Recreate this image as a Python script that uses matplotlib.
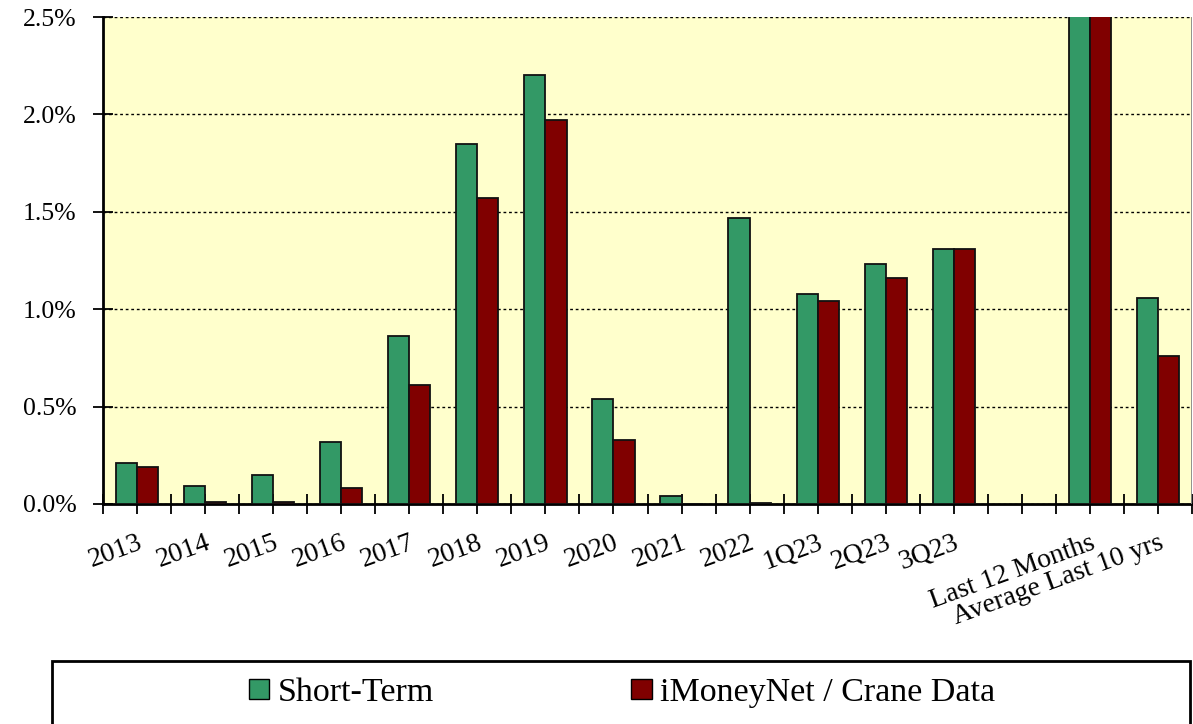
import matplotlib
matplotlib.use("Agg")
import matplotlib.pyplot as plt
import numpy as np
from matplotlib.patches import Rectangle, Patch
from matplotlib.ticker import FuncFormatter, MultipleLocator

categories = ["2013", "2014", "2015", "2016", "2017", "2018", "2019", "2020",
              "2021", "2022", "1Q23", "2Q23", "3Q23", "", "Last 12 Months",
              "Average Last 10 yrs"]
short_term = [0.21, 0.09, 0.15, 0.32, 0.86, 1.85, 2.20, 0.54,
              0.04, 1.47, 1.08, 1.23, 1.31, np.nan, 4.90, 1.06]
imoneynet = [0.19, 0.01, 0.01, 0.08, 0.61, 1.57, 1.97, 0.33,
             0.00, 0.005, 1.04, 1.16, 1.31, np.nan, 4.80, 0.76]
series_names = ["Short-Term", "iMoneyNet / Crane Data"]
colors = ["#339966", "#800000"]

plt.rcParams['font.family'] = ['Liberation Serif', 'DejaVu Serif']

W, H = 1193, 724
fig = plt.figure(figsize=(W / 100, H / 100), dpi=100)
ax = fig.add_axes([103 / W, 1 - 504 / H, (1192 - 103) / W, (504 - 17) / H])
ax.set_facecolor("#FFFFCC")

x = np.arange(len(categories))
bw = 0.31
ax.bar(x - bw / 2, short_term, bw, color=colors[0], edgecolor="#111111", linewidth=1.3, zorder=3)
ax.bar(x + bw / 2, imoneynet, bw, color=colors[1], edgecolor="#111111", linewidth=1.3, zorder=3)

ax.set_xlim(-0.5, len(categories) - 0.5)
ax.set_ylim(0, 2.5)
ax.yaxis.set_major_locator(MultipleLocator(0.5))
ax.yaxis.set_major_formatter(FuncFormatter(lambda v, p: f"{v:.1f}%"))
ax.grid(axis="y", color="black", linestyle=(0, (2, 2)), linewidth=1.0, zorder=1)

ax.set_xticks(x)
ax.set_xticklabels(categories, rotation=20, ha="right", rotation_mode="anchor")
ax.set_xticks(np.arange(-0.5, len(categories), 1.0), minor=True)
ax.tick_params(axis="x", which="both", direction="inout", length=14, width=1.3,
               labelsize=20, pad=12)
ax.tick_params(axis="y", direction="inout", length=14, width=1.3, labelsize=18.5, pad=12)

for s in ["top", "right"]:
    ax.spines[s].set_visible(False)
ax.spines["left"].set_linewidth(2.0)
ax.spines["bottom"].set_linewidth(2.0)
ax.axvline(len(categories) - 0.5, color="#888888", linewidth=2, zorder=4)

# legend frame
fig.patches.append(Rectangle((52 / W, -0.1), (1190 - 52) / W, 0.1 + (1 - 661 / H),
                             transform=fig.transFigure, facecolor="white",
                             edgecolor="black", linewidth=2))
handles = [Patch(facecolor=c, edgecolor="black", label=n) for c, n in zip(colors, series_names)]
fig.legend(handles=handles, loc="center", bbox_to_anchor=(0.5214, 1 - 693 / H),
           ncol=2, frameon=False, fontsize=24.5, handlelength=0.6, handleheight=0.55,
           handletextpad=0.25, columnspacing=5.8, borderpad=0)

fig.savefig("out.png", dpi=100)
